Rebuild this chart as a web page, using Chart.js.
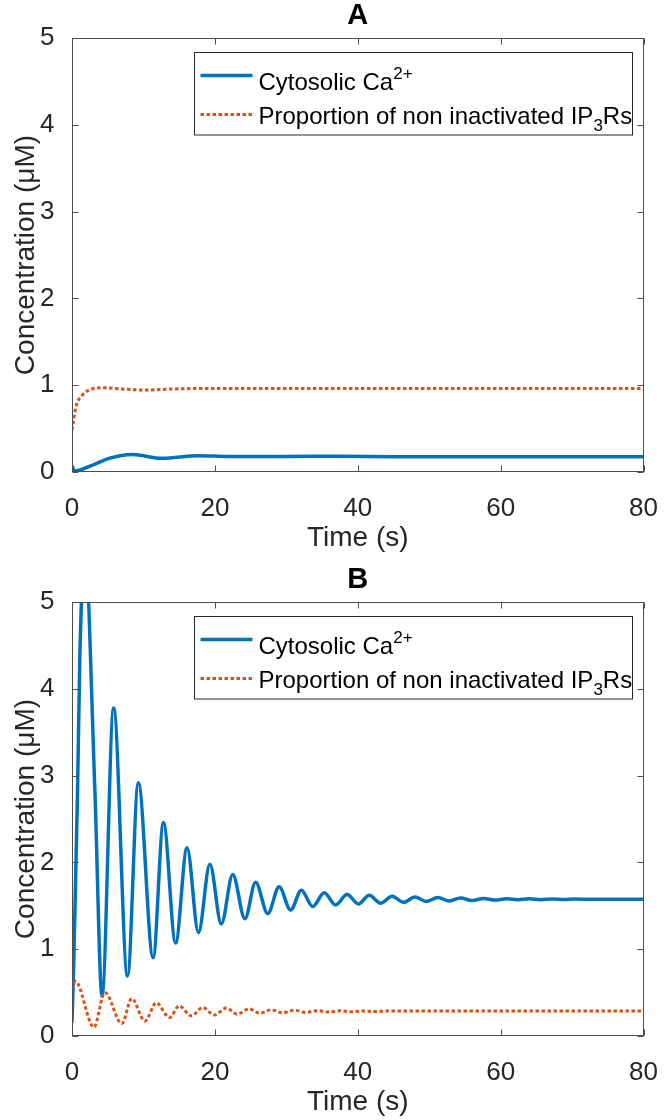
<!DOCTYPE html>
<html>
<head>
<meta charset="utf-8">
<script src="https://cdn.jsdelivr.net/npm/chart.js@4.4.1/dist/chart.umd.min.js"></script>
<style>
  body { margin: 0; background: #fff; }
  #wrap { position: relative; width: 671px; height: 1120px; }
  canvas { position: absolute; left: 0; }
</style>
</head>
<body>
<div id="wrap">
  <canvas id="panelA" width="671" height="556" style="top:0"></canvas>
  <canvas id="panelB" width="671" height="556" style="top:564px"></canvas>
</div>
<script>
// values (time in s, concentration in uM)
const panelTitles = ['A', 'B'];
const seriesNames = ['Cytosolic Ca²⁺', 'Proportion of non inactivated IP₃Rs'];
const xTicks = [0, 20, 40, 60, 80];
const yTicks = [0, 1, 2, 3, 4, 5];

// panel A
const caTimeA = [0, 0.37, 2.9, 5.2, 8.4, 12.6, 17.6, 22, 30, 38, 45, 80];
const caA     = [0.067, 0.01, 0.078, 0.155, 0.2, 0.155, 0.186, 0.176, 0.177, 0.179, 0.175, 0.175];
const ipTimeA = [0, 0.55, 1.47, 2.6, 4.2, 7.0, 10.2, 14, 17, 25, 80];
const ipA     = [0.48, 0.75, 0.886, 0.95, 0.97, 0.955, 0.943, 0.955, 0.96, 0.962, 0.962];

// panel B
const caTimeB = [0, 0.27, 0.78, 1.1, 1.8, 3.2, 4.2, 5.83, 7.77, 9.28, 11.35, 12.8, 14.5, 16.1, 17.7,
  19.3, 20.9, 22.5, 24.2, 25.7, 27.4, 29.0, 30.6, 32.1, 33.7, 35.3, 36.9, 38.5, 40.1, 41.6, 43.2,
  44.8, 46.4, 48.0, 49.6, 51.2, 52.8, 54.4, 56.0, 57.6, 59.2, 60.8, 62.4, 64.0, 65.6, 67.2, 68.8,
  70.4, 72, 80];
const caB = [0.15, 0.92, 2.84, 4.38, 5.6, 2.84, 0.46, 3.78, 0.69, 2.92, 0.9, 2.46, 1.07, 2.17, 1.19,
  1.98, 1.29, 1.86, 1.35, 1.77, 1.41, 1.72, 1.45, 1.68, 1.49, 1.65, 1.51, 1.63, 1.52, 1.62, 1.53,
  1.61, 1.54, 1.6, 1.55, 1.595, 1.555, 1.59, 1.56, 1.585, 1.565, 1.58, 1.57, 1.58, 1.57, 1.578, 1.572,
  1.577, 1.574, 1.575];
const ipTimeB = [0, 0.46, 3.07, 4.6, 6.98, 8.36, 10.2, 11.8, 13.65, 15.0, 16.7, 18.3, 19.9, 21.6, 23.1,
  24.8, 26.3, 27.9, 29.5, 31.1, 32.7, 34.3, 35.9, 37.5, 39.1, 40.7, 42.3, 44, 80];
const ipB = [0.54, 0.63, 0.1, 0.5, 0.14, 0.43, 0.17, 0.38, 0.21, 0.345, 0.23, 0.327, 0.24, 0.32, 0.25,
  0.31, 0.26, 0.3, 0.265, 0.295, 0.27, 0.29, 0.275, 0.288, 0.278, 0.286, 0.28, 0.285, 0.285];

const blue = '#0072BD';
const orange = '#D95319';
const txt = '#262626';
const font = "'Liberation Sans', Arial, sans-serif";

const pts = (xs, ys) => xs.map((x, i) => ({x: x, y: ys[i]}));

// matlab style box with inward ticks
const frame = {
  id: 'frame',
  afterDatasetsDraw(chart) {
    const {ctx, chartArea: a, scales: {x, y}} = chart;
    const l = Math.round(a.left) + 0.5, r = Math.round(a.right) - 0.5;
    const t = Math.round(a.top) + 0.5, b = Math.round(a.bottom) - 0.5;
    ctx.save();
    ctx.strokeStyle = '#4d4d4d';
    ctx.lineWidth = 1;
    ctx.strokeRect(l, t, r - l, b - t);
    ctx.beginPath();
    x.ticks.forEach(tk => {
      const px = Math.round(x.getPixelForValue(tk.value)) + 0.5;
      ctx.moveTo(px, b); ctx.lineTo(px, b - 6);
      ctx.moveTo(px, t); ctx.lineTo(px, t + 6);
    });
    y.ticks.forEach(tk => {
      const py = Math.round(y.getPixelForValue(tk.value)) + 0.5;
      ctx.moveTo(l, py); ctx.lineTo(l + 6, py);
      ctx.moveTo(r, py); ctx.lineTo(r - 6, py);
    });
    ctx.stroke();
    ctx.restore();
  }
};

// legend box with super/subscripts
const legendRows = [
  {line: 23, base: 37.5, parts: [['Cytosolic Ca', 0], ['2+', -11]]},
  {line: 62, base: 71, parts: [['Proportion of non inactivated IP', 0], ['3', 7], ['Rs', 0]]}
];
const boxLegend = {
  id: 'boxLegend',
  afterDraw(chart) {
    const {ctx, chartArea: a} = chart;
    const bx = Math.round(a.left + 122) + 0.5, by = Math.round(a.top + 13.5) + 0.5;
    const bw = Math.round(a.right - 12) - bx + 0.5, bh = 82.5;
    ctx.save();
    ctx.fillStyle = '#fff';
    ctx.fillRect(bx, by, bw, bh);
    ctx.strokeStyle = '#262626';
    ctx.lineWidth = 1;
    ctx.strokeRect(bx, by, bw, bh);
    legendRows.forEach((row, i) => {
      const ds = chart.data.datasets[i];
      ctx.strokeStyle = ds.borderColor;
      ctx.lineWidth = ds.borderWidth;
      ctx.setLineDash(ds.borderDash || []);
      ctx.beginPath();
      ctx.moveTo(bx + 6, by + row.line);
      ctx.lineTo(bx + 58, by + row.line);
      ctx.stroke();
      ctx.setLineDash([]);
      let cx = bx + 64;
      ctx.fillStyle = '#000';
      ctx.textBaseline = 'alphabetic';
      row.parts.forEach(([s, shift]) => {
        ctx.font = (shift ? 17 : 24) + 'px ' + font;
        ctx.fillText(s, cx, by + row.base + shift);
        cx += ctx.measureText(s).width;
      });
    });
    ctx.restore();
  }
};

function makePanel(id, title, ca, ip) {
  return new Chart(document.getElementById(id), {
    type: 'line',
    data: {
      datasets: [
        {label: seriesNames[0], data: ca, borderColor: blue, borderWidth: 3.5, order: 1},
        {label: seriesNames[1], data: ip, borderColor: orange, borderWidth: 3, borderDash: [3.5, 2.5], order: 0}
      ]
    },
    options: {
      responsive: false,
      animation: false,
      cubicInterpolationMode: 'monotone',
      elements: {point: {radius: 0}, line: {fill: false}},
      datasets: {line: {clip: 0}},
      layout: {padding: {left: 0, right: 18.5, top: 0, bottom: 0}},
      plugins: {
        legend: {display: false},
        tooltip: {enabled: false},
        title: {
          display: true, text: title, fullSize: false, color: '#000',
          font: {family: font, size: 29, weight: 'bold', lineHeight: 1},
          padding: {top: 1, bottom: 8.3}
        }
      },
      scales: {
        x: {
          type: 'linear', min: 0, max: 80,
          afterBuildTicks: s => { s.ticks = xTicks.map(v => ({value: v})); },
          afterFit: s => { s.height = 84.2; },
          grid: {display: false}, border: {display: false},
          ticks: {color: txt, font: {family: font, size: 26}, padding: 13, maxRotation: 0, autoSkip: false},
          title: {display: true, text: 'Time (s)', color: txt, font: {family: font, size: 28}, padding: {top: 0, bottom: 1.2}}
        },
        y: {
          min: 0, max: 5,
          afterBuildTicks: s => { s.ticks = yTicks.map(v => ({value: v})); },
          afterFit: s => { s.width = 72; },
          grid: {display: false}, border: {display: false},
          ticks: {color: txt, font: {family: font, size: 26}, padding: 9.5},
          title: {display: true, text: 'Concentration (μM)', color: txt, font: {family: font, size: 28}, padding: {top: 9, bottom: 0}}
        }
      }
    },
    plugins: [frame, boxLegend]
  });
}

makePanel('panelA', panelTitles[0], pts(caTimeA, caA), pts(ipTimeA, ipA));
makePanel('panelB', panelTitles[1], pts(caTimeB, caB), pts(ipTimeB, ipB));
</script>
</body>
</html>
